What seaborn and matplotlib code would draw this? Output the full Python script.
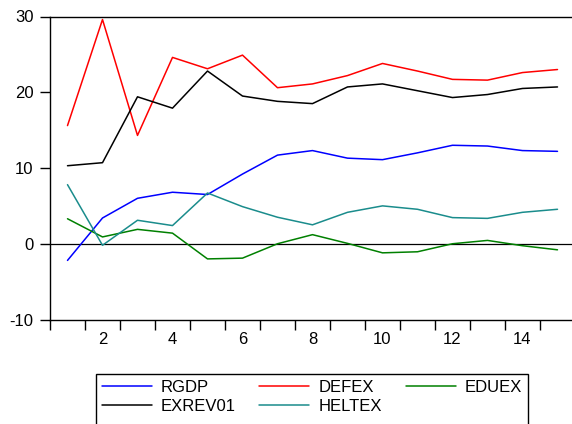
import numpy as np
import pandas as pd
import matplotlib
matplotlib.use("Agg")
import matplotlib.pyplot as plt
from matplotlib.patches import Rectangle
import seaborn as sns

# Periods and series values
periods = list(range(1, 16))
rgdp = [-2.2, 3.4, 6.0, 6.8, 6.5, 9.2, 11.7, 12.3, 11.3, 11.1, 12.0, 13.0, 12.9, 12.3, 12.2]
defex = [15.6, 29.6, 14.3, 24.6, 23.1, 24.9, 20.6, 21.1, 22.2, 23.8, 22.8, 21.7, 21.6, 22.6, 23.0]
eduex = [3.3, 0.9, 1.9, 1.4, -2.0, -1.9, 0.0, 1.2, 0.05, -1.2, -1.06, 0.0, 0.44, -0.26, -0.8]
exrev01 = [10.3, 10.7, 19.4, 17.9, 22.8, 19.5, 18.8, 18.5, 20.7, 21.1, 20.2, 19.3, 19.7, 20.5, 20.7]
heltex = [7.8, -0.2, 3.1, 2.4, 6.7, 4.9, 3.5, 2.5, 4.15, 5.0, 4.55, 3.45, 3.35, 4.15, 4.55]

series_names = ["RGDP", "DEFEX", "EDUEX", "EXREV01", "HELTEX"]
series_values = [rgdp, defex, eduex, exrev01, heltex]
series_colors = ["#0000ff", "#ff0000", "#008000", "#000000", "#1a8c8c"]

y_ticks = [-10, 0, 10, 20, 30]
x_tick_labels = [2, 4, 6, 8, 10, 12, 14]

df = pd.DataFrame({
    "period": np.tile(periods, len(series_names)),
    "value": np.concatenate(series_values),
    "series": np.repeat(series_names, len(periods)),
})

sns.set_style("ticks")
plt.rcParams["font.family"] = ["Liberation Sans", "DejaVu Sans"]
plt.rcParams["axes.unicode_minus"] = False
plt.rcParams["text.color"] = "black"
plt.rcParams["xtick.labelcolor"] = "black"
plt.rcParams["ytick.labelcolor"] = "black"

W, H = 572, 424
fig = plt.figure(figsize=(W / 100, H / 100), dpi=100)
ax = fig.add_axes([50 / W, 1 - 319.5 / H, 525 / W, 303 / H])

palette = dict(zip(series_names, series_colors))
sns.lineplot(data=df, x="period", y="value", hue="series", hue_order=series_names,
             palette=palette, linewidth=1.1, ax=ax, legend=False, estimator=None)

ax.axhline(0, color="black", linewidth=0.9, zorder=1)

ax.set_xlim(0.5, 15.5)
ax.set_ylim(-10, 30)
ax.set_yticks(y_ticks)
ax.set_xticks(x_tick_labels)
ax.set_xticks(np.arange(0.5, 16, 1), minor=True)
ax.tick_params(axis="x", which="major", length=0, labelsize=12, pad=9, labelcolor="black")
ax.tick_params(axis="x", which="minor", length=7, width=1, color="black", direction="out")
ax.tick_params(axis="y", length=7, width=1, color="black", labelsize=12, pad=5,
               direction="out", labelcolor="black")
ax.set_xlabel("")
ax.set_ylabel("")
for s in ax.spines.values():
    s.set_color("black")
    s.set_linewidth(1.0)

# Legend: ordered so columns read RGDP/EXREV01, DEFEX/HELTEX, EDUEX
order = ["RGDP", "EXREV01", "DEFEX", "HELTEX", "EDUEX"]
handles = [plt.Line2D([], [], color=palette[n], linewidth=1.1) for n in order]
leg = fig.legend(handles, order, loc="upper left",
                 bbox_to_anchor=(96 / W, 1 - 374 / H, 432 / W, 0),
                 mode="expand", ncol=3, fontsize=12, frameon=False,
                 borderaxespad=0, borderpad=0.35, handlelength=3.0, handletextpad=0.55,
                 labelspacing=0.25, columnspacing=0.8, labelcolor="black")

# Legend box running off the bottom edge of the figure
fig.patches.append(Rectangle((96 / W, -0.05), 432 / W, (1 - 374 / H) + 0.05,
                             transform=fig.transFigure, fill=False,
                             edgecolor="black", linewidth=1.0))

fig.savefig("out.png", dpi=100)
